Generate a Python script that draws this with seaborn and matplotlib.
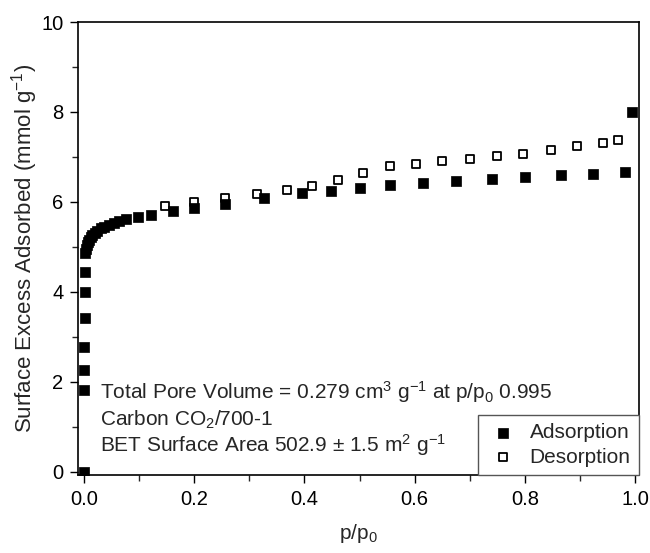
import matplotlib
matplotlib.use("Agg")
import matplotlib.pyplot as plt
from matplotlib.ticker import MultipleLocator
import seaborn as sns
import pandas as pd

ads_p = [0.0001, 0.0002, 0.0003, 0.0005, 0.0008, 0.0012, 0.0018,
         0.002, 0.003, 0.005, 0.007, 0.009, 0.012, 0.015, 0.019, 0.024,
         0.030, 0.037, 0.045, 0.054, 0.064, 0.076, 0.097, 0.122,
         0.162, 0.20, 0.256, 0.326, 0.396, 0.449, 0.50, 0.555,
         0.615, 0.675, 0.74, 0.80, 0.866, 0.923, 0.981, 0.995]
ads_q = [0.0, 1.83, 2.26, 2.78, 3.41, 4.0, 4.45,
         4.86, 4.96, 5.04, 5.10, 5.15, 5.21, 5.26, 5.31, 5.36,
         5.41, 5.45, 5.49, 5.53, 5.57, 5.62, 5.67, 5.71,
         5.79, 5.87, 5.96, 6.08, 6.19, 6.25, 6.32, 6.38,
         6.43, 6.47, 6.52, 6.56, 6.59, 6.63, 6.67, 8.0]

des_p = [0.147, 0.20, 0.256, 0.313, 0.368, 0.414, 0.461, 0.507, 0.555,
         0.602, 0.65, 0.70, 0.749, 0.797, 0.847, 0.894, 0.941, 0.968]
des_q = [5.9, 5.99, 6.09, 6.18, 6.27, 6.35, 6.49, 6.64, 6.8,
         6.85, 6.91, 6.95, 7.02, 7.07, 7.15, 7.24, 7.3, 7.38]

sns.set_theme(style="ticks")
plt.rcParams['font.family'] = ['Liberation Sans', 'DejaVu Sans']
plt.rcParams['mathtext.fontset'] = 'custom'
plt.rcParams['mathtext.rm'] = 'Liberation Sans'
plt.rcParams['mathtext.it'] = 'Liberation Sans'
plt.rcParams['mathtext.default'] = 'regular'

FS = 15

ads = pd.DataFrame({"p": ads_p, "q": ads_q})
des = pd.DataFrame({"p": des_p, "q": des_q})

fig = plt.figure(figsize=(6.5, 5.53), dpi=100)
ax = fig.add_axes([78/650, 1 - 475/553, (639-78)/650, (475-22)/553])

sns.scatterplot(data=des, x="p", y="q", ax=ax, marker="s", s=34,
                facecolor="white", edgecolor="black", linewidth=1.3,
                label="Desorption", zorder=3)
sns.scatterplot(data=ads, x="p", y="q", ax=ax, marker="s", s=50,
                color="black", edgecolor="black", linewidth=0.5,
                label="Adsorption", zorder=4)

ax.set_xlim(-0.011, 1.007)
ax.set_ylim(-0.07, 10)
ax.xaxis.set_major_locator(MultipleLocator(0.2))
ax.xaxis.set_minor_locator(MultipleLocator(0.1))
ax.yaxis.set_major_locator(MultipleLocator(2))
ax.yaxis.set_minor_locator(MultipleLocator(1))
ax.tick_params(which="major", direction="out", length=6, width=1,
               labelsize=14.5, colors="black", top=False, right=False, pad=4.5)
ax.tick_params(which="minor", direction="out", length=4, width=1,
               top=False, right=False)
for sp in ax.spines.values():
    sp.set_visible(True)
    sp.set_linewidth(1.2)
    sp.set_color("black")

ax.set_xlabel("p/p$_0$", fontsize=FS, labelpad=10)
ax.set_ylabel("Surface Excess Adsorbed (mmol g$^{-1}$)", fontsize=16, labelpad=1)

ax.text(0.04, 0.168, "Total Pore Volume = 0.279 cm$^3$ g$^{-1}$ at p/p$_0$ 0.995",
        transform=ax.transAxes, fontsize=FS, va="baseline")
ax.text(0.04, 0.109, "Carbon CO$_2$/700-1", transform=ax.transAxes,
        fontsize=FS, va="baseline")
ax.text(0.04, 0.051, "BET Surface Area 502.9 \u00b1 1.5 m$^2$ g$^{-1}$",
        transform=ax.transAxes, fontsize=FS, va="baseline")

h, l = ax.get_legend_handles_labels()
order = [l.index("Adsorption"), l.index("Desorption")]
leg = ax.legend([h[i] for i in order], [l[i] for i in order],
                loc="lower right", borderaxespad=0, fancybox=False,
                framealpha=1, edgecolor="#555555", fontsize=FS,
                handletextpad=0.5, borderpad=0.4, labelspacing=0.25,
                handlelength=1.6)
leg.get_frame().set_linewidth(1.0)

fig.savefig("out.png", dpi=100)
